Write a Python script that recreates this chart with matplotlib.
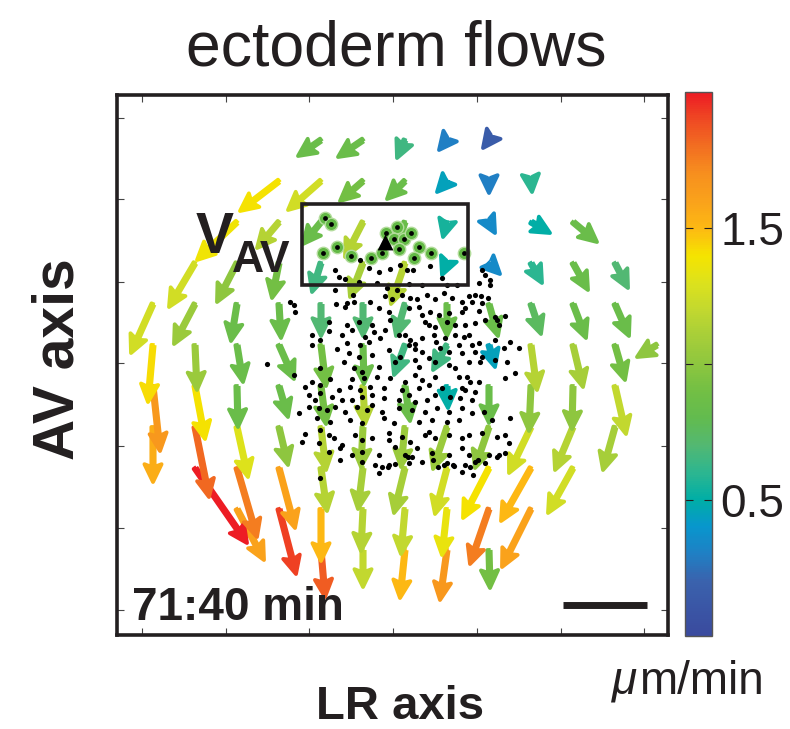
import numpy as np
import matplotlib
matplotlib.use("Agg")
import matplotlib.pyplot as plt
from matplotlib.colors import LinearSegmentedColormap, Normalize
from matplotlib.patches import Rectangle
import matplotlib.cm as cm

plt.rcParams['font.family'] = ['Liberation Sans', 'DejaVu Sans']

# ---------------- data ----------------
# PIV grid positions (image-plane units)
grid_x = [153, 195, 237, 279, 321, 363, 405, 447, 489, 531, 573, 615, 657]
grid_y = [140, 181, 222, 263, 304, 345, 386, 427, 468, 509, 550]

# one entry per arrow: grid row, grid column, projected displacement (u, v), speed (um/min)
arrow_row = ([0] * 5 + [1] * 7 + [2] * 9 + [3] * 11 + [4] * 12 + [5] * 13 +
             [6] * 12 + [7] * 12 + [8] * 10 + [9] * 8 + [10] * 5)
arrow_col = [4, 5, 6, 7, 8,
             3, 4, 5, 6, 7, 8, 9,
             2, 3, 4, 5, 6, 7, 8, 9, 10,
             1, 2, 3, 4, 5, 6, 7, 8, 9, 10, 11,
             0, 1, 2, 3, 4, 5, 6, 7, 8, 9, 10, 11,
             0, 1, 2, 3, 4, 5, 6, 7, 8, 9, 10, 11, 12,
             0, 1, 2, 3, 4, 5, 6, 7, 8, 9, 10, 11,
             0, 1, 2, 3, 4, 5, 6, 7, 8, 9, 10, 11,
             1, 2, 3, 4, 5, 6, 7, 8, 9, 10,
             2, 3, 4, 5, 6, 7, 8, 9,
             4, 5, 6, 7, 8]
arrow_u = [-23, -25, -8, -8, -6,
           -39, -33, -23, -18, -10, 0, 1,
           -40, -22, -18, -18, -9, -4, 6, 19, 24,
           -26, -20, -7, -9, -13, -14, -5, 11, 11, 15, 13,
           -22, -21, -6, 2, 0, 0, -9, 0, 9, 10, 13, 14,
           -5, 2, 6, 15, 5, 1, -11, -14, 6, 6, 10, 10, -20,
           7, 10, 1, 9, 5, 2, 5, 1, 0, -2, -1, 11,
           0, 14, 11, 9, 5, -2, -4, -14, -14, -22, -18, -12,
           52, 20, 16, 6, -5, -11, -12, -26, -30, -25,
           27, 17, 0, -2, -4, -5, -19, -29,
           4, 0, -5, -7, 1]
arrow_v = [16, 17, 18, 10, 8,
           30, 29, 20, 18, 11, 12, 11,
           38, 26, 22, 35, 28, 15, 11, 11, 20,
           44, 39, 35, 29, 34, 41, 12, 11, 20, 27, 25,
           49, 40, 37, 34, 32, 32, 32, 32, 32, 30, 34, 32,
           57, 45, 37, 34, 41, 39, 30, 25, 22, 45, 42, 35, 12,
           65, 53, 41, 31, 38, 38, 35, 22, 37, 45, 43, 48,
           55, 70, 50, 38, 43, 40, 40, 42, 41, 46, 43, 43,
           75, 69, 60, 43, 41, 45, 46, 50, 53, 45,
           51, 65, 52, 42, 45, 46, 55, 58,
           47, 37, 48, 50, 38]
arrow_speed = [0.85, 0.85, 0.65, 0.30, 0.15,
               1.40, 1.25, 0.90, 0.85, 0.45, 0.30, 0.60,
               1.38, 1.15, 0.85, 1.15, 0.85, 0.55, 0.35, 0.50, 0.85,
               1.25, 1.00, 0.90, 0.65, 1.10, 1.15, 0.50, 0.35, 0.60, 0.85, 0.70,
               1.25, 1.05, 0.85, 0.85, 0.70, 0.70, 0.70, 0.85, 0.85, 0.75, 0.85, 0.85,
               1.42, 1.05, 0.85, 0.85, 0.90, 0.85, 0.65, 0.65, 0.45, 1.15, 1.10, 0.90, 1.00,
               1.65, 1.40, 0.85, 0.85, 0.90, 1.15, 0.85, 0.50, 0.85, 1.00, 1.00, 1.20,
               1.55, 1.82, 1.30, 1.00, 1.15, 1.05, 1.05, 1.05, 1.00, 1.25, 1.15, 1.10,
               2.00, 1.75, 1.60, 1.15, 1.10, 1.10, 1.25, 1.40, 1.50, 1.25,
               1.60, 1.92, 1.50, 1.15, 1.20, 1.35, 1.75, 1.60,
               1.85, 1.20, 1.50, 1.65, 0.90]

# tracked cells (black dots)
cell_xy = [
    (360, 260), (369, 268), (379, 272), (390, 269), (400, 265), (430, 266), (335, 270), (339, 277),
    (345, 279), (359, 282), (377, 283), (387, 288), (409, 284), (422, 285), (442, 278), (447, 285),
    (457, 285), (482, 270), (485, 275), (490, 280), (479, 283), (490, 285), (335, 290), (407, 270),
    (413, 270), (397, 290), (353, 295), (347, 303),
    (290, 302), (294, 305), (295, 312), (336, 304), (345, 307), (354, 302), (370, 302), (385, 296),
    (392, 299), (402, 295), (410, 298), (417, 299), (427, 295), (435, 299), (444, 293), (452, 298),
    (462, 302), (469, 296), (475, 295), (481, 296), (472, 302), (482, 303), (488, 298), (379, 308),
    (389, 312), (409, 308), (419, 307), (430, 312), (422, 315), (439, 315), (449, 313), (462, 312),
    (465, 308), (479, 311), (495, 317), (505, 316), (329, 322), (347, 325), (359, 322), (372, 325),
    (390, 320), (425, 322), (429, 325), (435, 327), (447, 322), (455, 325), (465, 325), (475, 323),
    (485, 320), (497, 320), (499, 325),
    (312, 335), (329, 331), (342, 335), (352, 330), (365, 337), (374, 332), (380, 338), (385, 330),
    (399, 335), (405, 335), (410, 340), (415, 344), (422, 338), (434, 335), (436, 342), (445, 338),
    (455, 335), (464, 337), (469, 335), (472, 345), (479, 343), (495, 340), (510, 342), (519, 348),
    (504, 348), (312, 345), (320, 340), (337, 349), (347, 343), (360, 345), (369, 342), (389, 350),
    (409, 345), (415, 349), (422, 352), (440, 348), (449, 352), (459, 345), (462, 353), (475, 352),
    (482, 357), (349, 353), (359, 357), (372, 355), (400, 357),
    (267, 364), (294, 375), (320, 368), (330, 379), (344, 362), (354, 368), (362, 372), (379, 367),
    (395, 362), (415, 360), (419, 367), (429, 358), (435, 362), (449, 365), (455, 368), (469, 362),
    (480, 362), (495, 360), (507, 362), (515, 373), (352, 379), (364, 378), (377, 377), (390, 378),
    (405, 382), (415, 375), (422, 380), (435, 377), (459, 377), (467, 377), (470, 382), (479, 382),
    (505, 378), (305, 387), (312, 382), (320, 385), (339, 390), (350, 387), (360, 390), (370, 387),
    (384, 388), (402, 390), (419, 388), (429, 385), (442, 388), (462, 388), (465, 390), (475, 392),
    (309, 395), (315, 400), (320, 393), (332, 397), (342, 400), (352, 400), (362, 397), (372, 395),
    (384, 398), (399, 400), (409, 395), (415, 402), (427, 400), (435, 395), (450, 397), (460, 398),
    (472, 400), (309, 407), (299, 413), (319, 408), (327, 410), (335, 407), (345, 412), (357, 407),
    (367, 410), (372, 405), (382, 412), (399, 408), (412, 410), (425, 412), (437, 408), (449, 412),
    (462, 408), (472, 413), (484, 412), (510, 418), (317, 418), (330, 422), (350, 420), (362, 423),
    (384, 418), (394, 423), (419, 422), (432, 420), (447, 422), (459, 420), (492, 420),
    (320, 430), (329, 435), (305, 434), (302, 442), (319, 443), (334, 438), (342, 445), (355, 435),
    (362, 440), (372, 438), (389, 433), (389, 440), (402, 437), (410, 442), (425, 435), (429, 432),
    (435, 438), (449, 435), (462, 438), (469, 435), (482, 433), (497, 437), (505, 435), (509, 443),
    (329, 452), (340, 448), (352, 455), (362, 452), (379, 455), (395, 447), (405, 455), (417, 448),
    (432, 453), (449, 455), (462, 448), (469, 455), (489, 455), (499, 455), (340, 460), (362, 462),
    (375, 465), (389, 465), (395, 464), (409, 463), (422, 462), (444, 465), (454, 466), (465, 465),
    (475, 462), (462, 472), (379, 473),
    (320, 478), (382, 467), (388, 467), (408, 457), (412, 457), (433, 460), (438, 467), (447, 463),
    (453, 465), (470, 467), (473, 475), (478, 460), (485, 463), (497, 457), (505, 453),
]
cell_x = [p[0] for p in cell_xy]
cell_y = [p[1] for p in cell_xy]

# cells inside the V_AV box (highlighted)
box_cell_x = [325, 331, 323, 337, 351, 371, 382, 386, 397, 394, 404, 411, 399, 419, 414, 431, 464]
box_cell_y = [218, 224, 253, 247, 256, 258, 253, 233, 227, 239, 239, 233, 249, 247, 258, 253, 253]
centroid_x, centroid_y = [385], [242]

# V_AV measurement box and 50 um scale bar
box_x, box_y, box_w, box_h = 302, 204, 166, 81
scalebar_x = [563, 647]
scalebar_y = [605, 605]

x_ticks = [142, 226, 309, 393, 477, 561, 644]
y_ticks = [118, 199, 282, 363, 446, 528, 610]
cbar_ticks = [0.5, 1.0, 1.5]
cbar_ticklabels = ['0.5', '', '1.5']
speed_min, speed_max = 0.0, 2.0

# colormap
cmap_vals = [0.0, 0.2, 0.3, 0.4, 0.5, 0.6, 0.7, 0.8, 0.9, 1.0, 1.1, 1.2, 1.3, 1.4,
             1.5, 1.6, 1.7, 1.8, 1.9, 2.0]
cmap_cols = ['#3a4a9e', '#3a62ad', '#1f80c4', '#0896cd', '#00aea6', '#2db690', '#53b872',
             '#62bb4f', '#72bf44', '#8dc63f', '#a6ce39', '#c2d82f', '#dde21c', '#f5e400',
             '#fdb913', '#faa21b', '#f7901e', '#f26f21', '#ef4a23', '#ed1c24']

# ---------------- plotting ----------------
W, H = 790, 729
fig = plt.figure(figsize=(W / 100, H / 100), dpi=100)
ax = fig.add_axes([117 / W, 1 - 635 / H, 551 / W, 540 / H])
ax.set_xlim(117, 668)
ax.set_ylim(635, 95)

cmap = LinearSegmentedColormap.from_list(
    'flow', list(zip(np.array(cmap_vals) / speed_max, cmap_cols)))
norm = Normalize(speed_min, speed_max)

X = np.array(grid_x)[arrow_col]
Y = np.array(grid_y)[arrow_row]
U = np.array(arrow_u, float)
V = np.array(arrow_v, float)
S = np.array(arrow_speed)
order = np.argsort(-Y, kind='stable')  # lower rows first, upper rows on top
# thin polygon + same-colour round-joined outline gives solid, slightly blunt arrows
ax.quiver(X[order], Y[order], U[order], V[order], S[order], cmap=cmap, norm=norm,
          angles='xy', scale_units='xy', scale=1, units='x', width=3.3,
          headwidth=5.2, headlength=5.4, headaxislength=4.6, minshaft=0,
          minlength=0, linewidth=2.75, edgecolor='face', joinstyle='round', zorder=2)

ink = '#231f20'
ax.scatter(cell_x, cell_y, s=14, c='black', linewidths=0, zorder=3)
ax.scatter(box_cell_x, box_cell_y, s=80, c='#63b946', edgecolors='#b3dc9c',
           linewidths=1.0, zorder=4)
ax.scatter(box_cell_x, box_cell_y, s=12, c='black', linewidths=0, zorder=5)
ax.scatter(centroid_x, centroid_y, s=130, marker='^', c='black', linewidths=0, zorder=6)
ax.add_patch(Rectangle((box_x, box_y), box_w, box_h, fill=False, lw=2.6,
                       edgecolor=ink, zorder=6))
ax.plot(scalebar_x, scalebar_y, color=ink, lw=5, solid_capstyle='butt', zorder=6)

ax.text(196, 253, 'V', fontsize=41, fontweight='bold', color=ink, ha='left', va='baseline', zorder=7)
ax.text(232, 272, 'AV', fontsize=32, fontweight='bold', color=ink, ha='left', va='baseline', zorder=7)
ax.text(132, 620, '71:40 min', fontsize=33, fontweight='bold', color=ink, ha='left',
        va='baseline', zorder=7)

ax.set_xticks(x_ticks)
ax.set_yticks(y_ticks)
ax.tick_params(direction='in', length=5, width=0.8, colors='#444444',
               top=True, right=True, labelleft=False, labelbottom=False)
for sp in ax.spines.values():
    sp.set_linewidth(2.6)
    sp.set_color(ink)

fig.text(396 / W, 1 - 66 / H, 'ectoderm flows', ha='center', va='baseline',
         fontsize=45, color=ink)
fig.text(73 / W, 1 - 359 / H, 'AV axis', rotation=90, rotation_mode='anchor',
         ha='center', va='baseline', fontsize=41, fontweight='bold', color=ink)
fig.text(400 / W, 1 - 719 / H, 'LR axis', ha='center', va='baseline',
         fontsize=34, fontweight='bold', color=ink)

cax = fig.add_axes([685 / W, 1 - 636 / H, 27 / W, 544 / H])
cb = fig.colorbar(cm.ScalarMappable(norm=norm, cmap=cmap), cax=cax)
cb.set_ticks(cbar_ticks)
cb.set_ticklabels(cbar_ticklabels)
cax.tick_params(direction='in', length=6, width=0.8, left=True, right=True,
                labelsize=33, pad=6, colors=ink)
cb.outline.set_linewidth(1.0)
cb.outline.set_edgecolor('#555555')
fig.text(612 / W, 1 - 694 / H, 'μ', ha='left', va='baseline', fontsize=33,
         style='italic', color=ink)
fig.text(639 / W, 1 - 694 / H, 'm/min', ha='left', va='baseline', fontsize=33, color=ink)

fig.savefig('out.png', dpi=100)
